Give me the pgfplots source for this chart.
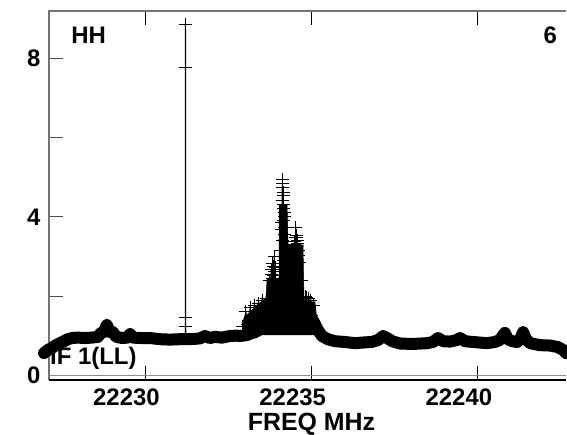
\documentclass[border=0pt]{standalone}
\usepackage{fontspec}
\setmainfont{Liberation Sans}
\usepackage{pgfplots}
\pgfplotsset{compat=1.18}
\begin{document}
\begin{tikzpicture}
\begin{axis}[
    name=a, at={(0,0)}, anchor=south west,
    width=517bp, height=369bp, scale only axis,
    xmin=22227.1, xmax=22242.65,
    ymin=-0.12, ymax=9.2,
    clip=false,
    axis line style={draw=none},
    xtick={22230,22235,22240},
    ytick={0,4,8}, minor ytick={2,6},
    xtick pos=both, ytick pos=left,
    xticklabel pos=bottom,
    scaled x ticks=false,
    tick align=inside,
    major tick length=14bp, minor tick length=14bp,
    x tick style={black, line width=1.1bp},
    y tick style={black!70, line width=1.1bp},
    ticklabel style={font=\fontsize{24}{24}\selectfont\bfseries},
    xticklabel style={yshift=-5bp, xshift=-19bp},
    yticklabel style={xshift=-5bp},
    /pgf/number format/assume math mode=true,
    /pgf/number format/1000 sep={},
    xlabel={FREQ MHz},
    xlabel style={font=\fontsize{25}{25}\selectfont\bfseries, yshift=-1bp, xshift=4bp},
]
% frame: grey left and top, black bottom, zero line grey
\draw[black!55, line width=1.2bp] (rel axis cs:0,0) -- (rel axis cs:0,1) -- (rel axis cs:1,1);
\draw[black!45, line width=1.4bp] (axis cs:22227.1,0) -- (axis cs:22242.65,0);
\draw[black, line width=1.2bp] (rel axis cs:0,0) -- (rel axis cs:1,0);

\node[anchor=west, font=\fontsize{24}{24}\selectfont\bfseries, inner sep=0pt] at (rel axis cs:0.002,0.058) {IF 1(LL)};
\node[anchor=west, font=\fontsize{24}{24}\selectfont\bfseries, inner sep=0pt] at (rel axis cs:0.043,0.935) {HH};
\node[anchor=east, font=\fontsize{24}{24}\selectfont\bfseries, inner sep=0pt] at (rel axis cs:0.983,0.935) {6};

% baseline of the spectrum (noise band)
\addplot[black, line width=12bp, line join=round, line cap=round] coordinates {
(22226.95,0.56)(22227.07,0.64)(22227.19,0.69)(22227.31,0.76)(22227.43,0.81)
(22227.55,0.86)(22227.67,0.91)(22227.79,0.94)(22227.97,0.95)(22228.18,0.94)
(22228.39,0.95)(22228.57,0.97)(22228.66,1.07)(22228.75,1.09)(22228.84,1.27)
(22228.93,1.09)(22229.02,1.09)(22229.12,0.97)(22229.30,0.94)(22229.45,0.95)
(22229.54,1.04)(22229.63,0.95)(22229.84,0.94)(22230.14,0.94)(22230.44,0.91)
(22230.74,0.90)(22231.04,0.91)(22231.34,0.91)(22231.64,0.93)(22231.79,0.99)
(22231.94,0.94)(22232.09,0.97)(22232.30,0.95)(22232.54,0.99)(22232.72,1.00)
(22232.84,0.99)(22233.02,1.01)(22233.30,1.09)(22233.57,1.22)(22233.75,1.27)
(22233.90,1.29)(22234.05,1.24)(22234.20,1.19)(22234.41,1.22)(22234.56,1.39)
(22234.71,1.52)(22234.83,1.57)(22234.95,1.50)(22235.07,1.34)(22235.19,1.14)
(22235.31,0.99)(22235.49,0.91)(22235.70,0.86)(22236.00,0.84)(22236.30,0.81)
(22236.60,0.83)(22236.81,0.84)(22237.00,0.89)(22237.15,0.99)(22237.27,0.94)
(22237.42,0.86)(22237.66,0.80)(22238.05,0.79)(22238.47,0.81)(22238.65,0.84)
(22238.80,0.94)(22238.95,0.86)(22239.16,0.85)(22239.37,0.89)(22239.46,0.94)
(22239.61,0.86)(22239.85,0.84)(22240.27,0.81)(22240.51,0.84)(22240.66,0.89)
(22240.81,1.07)(22240.90,0.91)(22241.03,0.86)(22241.18,0.84)(22241.27,0.91)
(22241.36,1.09)(22241.45,0.91)(22241.57,0.81)(22241.87,0.76)(22242.17,0.75)
(22242.41,0.71)(22242.56,0.64)(22242.65,0.56)
};

% dense core of the line emission, where the channel marks merge
\addplot[black, fill=black, line width=0.5bp] coordinates {
(22232.93,1.14)(22232.96,1.44)(22233.21,1.65)(22233.39,1.80)(22233.63,1.95)
(22233.66,2.45)(22234.02,2.45)(22234.02,4.30)(22234.26,4.30)(22234.29,3.29)
(22234.74,3.29)(22234.77,1.85)(22235.10,1.85)(22235.19,1.14)(22235.19,1.02)
(22232.93,1.02)
} -- cycle;

% the line region, every channel marked with +
\addplot[black, line width=1bp, mark=+, mark size=6.5bp, mark options={line width=1bp}] coordinates {
(22232.93,1.24)(22233.02,1.60)(22233.08,1.29)(22233.15,1.70)(22233.21,1.34)
(22233.27,1.75)(22233.33,1.39)(22233.39,1.82)(22233.45,1.44)(22233.51,1.90)
(22233.57,1.50)(22233.63,1.95)
(22233.69,1.39)(22233.72,2.40)(22233.75,1.65)(22233.78,2.66)(22233.80,2.55)
(22233.81,1.90)(22233.82,2.81)(22233.83,2.45)(22233.84,1.52)(22233.85,2.53)
(22233.86,2.74)(22233.87,2.99)(22233.88,2.15)(22233.89,2.62)(22233.90,2.71)
(22233.91,1.77)(22233.92,2.35)(22233.93,2.28)(22233.96,1.34)
(22234.02,1.90)(22234.05,3.16)(22234.06,1.65)(22234.08,3.67)(22234.09,2.15)
(22234.10,3.85)(22234.11,4.42)(22234.12,4.95)(22234.12,4.84)(22234.13,4.73)
(22234.13,3.41)(22234.14,4.62)(22234.14,4.55)(22234.14,2.66)(22234.15,4.30)
(22234.15,4.20)(22234.16,3.92)(22234.16,2.91)(22234.17,4.10)(22234.17,1.90)
(22234.18,3.72)(22234.18,3.55)(22234.19,4.00)(22234.20,3.29)(22234.21,1.39)
(22234.22,3.04)(22234.23,1.27)
(22234.29,1.34)(22234.32,1.90)(22234.35,2.40)(22234.38,1.65)(22234.41,2.91)
(22234.44,2.15)(22234.47,3.29)(22234.48,2.53)(22234.49,3.38)(22234.50,3.47)
(22234.51,3.10)(22234.52,3.72)(22234.53,3.54)(22234.54,2.78)(22234.55,3.48)
(22234.56,3.41)(22234.57,2.28)(22234.58,3.33)(22234.59,3.16)(22234.60,1.90)
(22234.61,3.02)(22234.62,2.86)(22234.65,1.65)(22234.68,2.40)
(22234.74,1.90)(22234.77,1.60)(22234.80,2.00)(22234.83,1.70)(22234.86,1.97)
(22234.89,1.55)(22234.92,1.95)(22234.95,1.70)(22234.98,1.90)(22235.01,1.50)
(22235.06,1.77)(22235.10,1.34)(22235.16,1.14)
};

% single-channel spike
\addplot[black, line width=1bp, mark=+, mark size=6.5bp, mark options={line width=1bp}] coordinates {
(22231.200,0.95)(22231.205,1.22)(22231.205,8.87)(22231.210,7.77)(22231.210,1.47)(22231.215,0.95)
};
\end{axis}
\pgfresetboundingbox
\path ([shift={(-49bp,-55bp)}]a.south west) rectangle ([shift={(1bp,11bp)}]a.north east);
\end{tikzpicture}
\end{document}
